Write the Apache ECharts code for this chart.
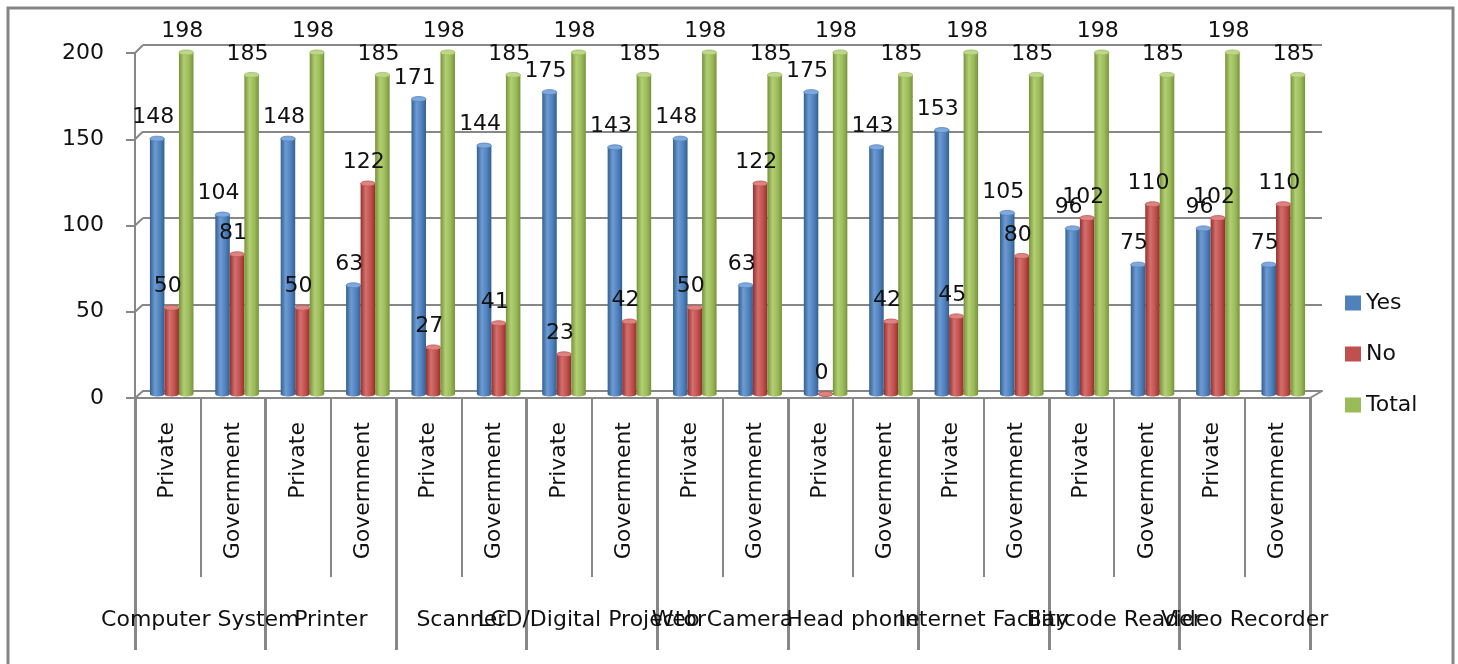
<!DOCTYPE html>
<html>
<head>
<meta charset="utf-8">
<script src="https://cdn.jsdelivr.net/npm/echarts@6/dist/echarts.min.js"></script>
<style>
  html, body { margin: 0; padding: 0; background: #ffffff; }
  #chart { width: 1458px; height: 664px; }
</style>
</head>
<body>
<div id="chart"></div>
<script>
// Equipment availability by institution type
const groups = ['Computer System', 'Printer', 'Scanner', 'LCD/Digital Projector', 'Web Camera',
  'Head phone', 'Internet Facility', 'Barcode Reader', 'Video Recorder'];
const subTypes = ['Private', 'Government'];
const categories = groups.flatMap(() => subTypes);

const yesValues   = [148, 104, 148, 63, 171, 144, 175, 143, 148, 63, 175, 143, 153, 105, 96, 75, 96, 75];
const noValues    = [50, 81, 50, 122, 27, 41, 23, 42, 50, 122, 0, 42, 45, 80, 102, 110, 102, 110];
const totalValues = [198, 185, 198, 185, 198, 185, 198, 185, 198, 185, 198, 185, 198, 185, 198, 185, 198, 185];

const yTicks = [0, 50, 100, 150, 200];

const FONT = 'DejaVu Sans';
const FS = 22;
const GRAY = '#878787';

const palettes = [
  { base: '#4F81BD', dark: '#33608f', light: '#6e9bd3', cap: '#7fa8dc' },
  { base: '#C0504D', dark: '#93302d', light: '#d4706d', cap: '#dc8482' },
  { base: '#9BBB59', dark: '#76933a', light: '#b2cf74', cap: '#bdd68a' }
];

// Cylinder-style columns drawn on the middle-depth grid
function cylinderSeries(name, values, idx) {
  const p = palettes[idx];
  const body = new echarts.graphic.LinearGradient(0, 0, 1, 0, [
    { offset: 0, color: p.dark },
    { offset: 0.35, color: p.light },
    { offset: 0.7, color: p.base },
    { offset: 1, color: p.dark }
  ]);
  return {
    type: 'custom',
    name: name,
    xAxisIndex: 3,
    yAxisIndex: 2,
    itemStyle: { color: p.base },
    data: values.map((v, i) => [i, v]),
    encode: { x: 0, y: 1 },
    renderItem: function (params, api) {
      const i = api.value(0);
      const v = api.value(1);
      const base = api.coord([i, 0]);
      const top = api.coord([i, v]);
      const band = api.size([1, 0])[0];
      const bw = band * 0.222;
      const cx = base[0] + (idx - 1) * bw;
      const ry = 2.5;
      return {
        type: 'group',
        children: [
          { type: 'ellipse', shape: { cx: cx, cy: base[1], rx: bw / 2, ry: ry }, style: { fill: body } },
          { type: 'rect', shape: { x: cx - bw / 2, y: top[1], width: bw, height: base[1] - top[1] }, style: { fill: body } },
          { type: 'ellipse', shape: { cx: cx, cy: top[1], rx: bw / 2, ry: ry }, style: { fill: p.cap, stroke: p.base, lineWidth: 0.8 } },
          {
            type: 'text', z2: 100,
            style: {
              text: String(v), x: cx - 4, y: top[1] - 21,
              align: 'center', verticalAlign: 'middle',
              font: FS + 'px "' + FONT + '"', fill: '#111'
            }
          }
        ]
      };
    }
  };
}

const chart = echarts.init(document.getElementById('chart'), null, { renderer: 'canvas' });

const option = {
  animation: false,
  backgroundColor: '#ffffff',
  textStyle: { fontFamily: FONT },
  grid: [
    { left: 135, right: 148, top: 53, bottom: 266 },   // front plane: axes and labels
    { left: 143, right: 136, top: 45, bottom: 273 },   // back wall: gridlines
    { left: 139, right: 142, top: 49, bottom: 270 }    // middle depth: columns
  ],
  legend: {
    orient: 'vertical',
    left: 1340,
    top: 287,
    icon: 'rect',
    itemWidth: 16,
    itemHeight: 15,
    itemGap: 29,
    data: ['Yes', 'No', 'Total'],
    textStyle: { fontFamily: FONT, fontSize: FS, color: '#111' }
  },
  xAxis: [
    {
      type: 'category', gridIndex: 0, data: categories, position: 'bottom', offset: 0,
      axisLine: { show: true, lineStyle: { color: GRAY, width: 2 } },
      axisTick: { show: true, interval: 0, length: 179, lineStyle: { color: GRAY, width: 2 } },
      axisLabel: { interval: 0, rotate: 90, margin: 24, fontFamily: FONT, fontSize: FS, color: '#111' },
      splitLine: { show: false }
    },
    {
      type: 'category', gridIndex: 0, data: groups, position: 'bottom', offset: 0,
      axisLine: { show: false },
      axisTick: { show: true, interval: 0, length: 252, lineStyle: { color: GRAY, width: 3 } },
      axisLabel: { interval: 0, margin: 211, fontFamily: FONT, fontSize: FS, color: '#111', hideOverlap: false },
      splitLine: { show: false }
    },
    {
      type: 'category', gridIndex: 1, data: categories,
      axisLine: { show: true, lineStyle: { color: GRAY, width: 2 } },
      axisTick: { show: false },
      axisLabel: { show: false },
      splitLine: { show: false }
    },
    {
      type: 'category', gridIndex: 2, data: categories,
      axisLine: { show: false },
      axisTick: { show: false },
      axisLabel: { show: false },
      splitLine: { show: false }
    }
  ],
  yAxis: [
    {
      type: 'value', gridIndex: 0, min: 0, max: 200, interval: 50,
      axisLine: { show: true, lineStyle: { color: GRAY, width: 2 } },
      axisTick: { show: true, length: 9, lineStyle: { color: GRAY, width: 2 } },
      axisLabel: { margin: 31, fontFamily: FONT, fontSize: FS, color: '#111' },
      splitLine: { show: false }
    },
    {
      type: 'value', gridIndex: 1, min: 0, max: 200, interval: 50,
      axisLine: { show: false },
      axisTick: { show: false },
      axisLabel: { show: false },
      splitLine: { show: true, lineStyle: { color: GRAY, width: 2 } }
    },
    {
      type: 'value', gridIndex: 2, min: 0, max: 200, interval: 50,
      axisLine: { show: false },
      axisTick: { show: false },
      axisLabel: { show: false },
      splitLine: { show: false }
    }
  ],
  series: [
    cylinderSeries('Yes', yesValues, 0),
    cylinderSeries('No', noValues, 1),
    cylinderSeries('Total', totalValues, 2)
  ]
};

chart.setOption(option);

// Side-wall and floor connectors between the front axis and the back wall
const lines = [];
yTicks.forEach(v => {
  const yf = chart.convertToPixel({ yAxisIndex: 0 }, v);
  const yb = chart.convertToPixel({ yAxisIndex: 1 }, v);
  lines.push({ type: 'line', shape: { x1: 135, y1: yf, x2: 143, y2: yb }, style: { stroke: GRAY, lineWidth: 2 }, silent: true });
});
const y0f = chart.convertToPixel({ yAxisIndex: 0 }, 0);
const y0b = chart.convertToPixel({ yAxisIndex: 1 }, 0);
lines.push({ type: 'line', shape: { x1: 1310, y1: y0f, x2: 1322, y2: y0b }, style: { stroke: GRAY, lineWidth: 2 }, silent: true });

chart.setOption({
  graphic: [
    { type: 'rect', shape: { x: 8, y: 8, width: 1445, height: 700 }, style: { fill: 'none', stroke: '#858585', lineWidth: 3 }, silent: true, z: -1 }
  ].concat(lines)
});
</script>
</body>
</html>
